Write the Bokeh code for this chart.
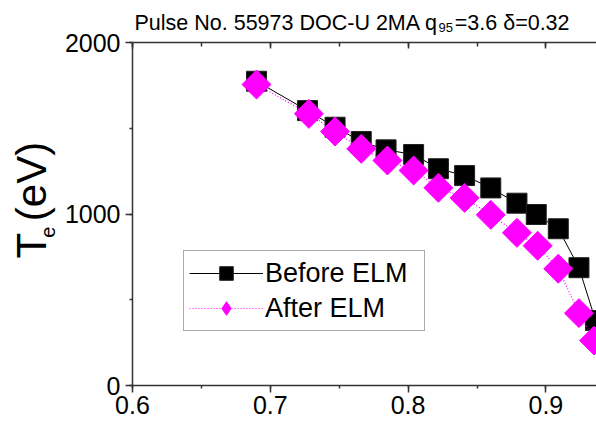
import math
from bokeh.plotting import figure
from bokeh.models import (Range1d, LinearAxis, SingleIntervalTicker, Label,
                          Legend, LegendItem, CustomJSTickFormatter)
from bokeh.embed import file_html
from bokeh.resources import INLINE

# ---- data ----
r_before = [0.690, 0.727, 0.747, 0.766, 0.784, 0.804, 0.822, 0.841, 0.860, 0.879, 0.893, 0.909, 0.924, 0.936]
te_before = [1774, 1603, 1506, 1423, 1374, 1347, 1264, 1224, 1152, 1063, 997, 914, 687, 379]
r_after = [0.690, 0.728, 0.747, 0.766, 0.785, 0.804, 0.822, 0.841, 0.860, 0.879, 0.894, 0.909, 0.924, 0.935]
te_after = [1755, 1584, 1481, 1380, 1312, 1254, 1153, 1094, 995, 890, 815, 681, 422, 262]
series_names = ["Before ELM", "After ELM"]
NB = "\u00a0"
title_text = "Pulse No. 55973 DOC-U 2MA q" + NB * 3 + "=3.6 \u03b4=0.32"
title_sub = "95"
ylabel_text = "T" + NB + "(eV)"
ylabel_sub = "e"

# ---- layout constants ----
W, H = 596, 424
FL, FR, FT, FB = 132, 596, 42, 385
XMIN, XMAX = 0.6, 0.6 + (FR - FL) / 1378.0
YMIN, YMAX = 0, 2000
FONT = "Liberation Sans"
AX = "#333333"


def dx(px):
    return XMIN + (px - FL) * (XMAX - XMIN) / (FR - FL)


def dy(py):
    return YMIN + (FB - py) * (YMAX - YMIN) / (FB - FT)


p = figure(width=W, height=H, output_backend="svg", toolbar_location=None,
           x_range=Range1d(XMIN, XMAX), y_range=Range1d(YMIN, YMAX),
           min_border_left=FL, min_border_right=W - FR,
           min_border_top=FT, min_border_bottom=H - FB,
           x_axis_location="below", y_axis_location="left")
p.outline_line_color = None
p.xgrid.visible = False
p.ygrid.visible = False
p.background_fill_color = "white"
p.border_fill_color = "white"

xa = p.xaxis[0]
xa.ticker = SingleIntervalTicker(interval=0.1, num_minor_ticks=2)
ya = p.yaxis[0]
ya.ticker = SingleIntervalTicker(interval=1000, num_minor_ticks=2)
for ax in (xa, ya):
    ax.axis_line_color = AX
    ax.axis_line_width = 1.5
    ax.major_tick_line_color = AX
    ax.minor_tick_line_color = AX
    ax.major_tick_line_width = 1.5
    ax.minor_tick_line_width = 1.5
    ax.major_tick_out = 7
    ax.major_tick_in = 0
    ax.minor_tick_out = 3
    ax.minor_tick_in = 0
    ax.major_label_text_font = FONT
    ax.major_label_text_font_size = "25px"
    ax.major_label_text_color = "black"
xa.major_label_standoff = 3
ya.major_label_standoff = 5

top = LinearAxis(ticker=SingleIntervalTicker(interval=0.1, num_minor_ticks=2),
                 formatter=CustomJSTickFormatter(code="return ''"))
top.axis_line_color = AX
top.axis_line_width = 1.5
top.major_tick_line_color = AX
top.minor_tick_line_color = AX
top.major_tick_line_width = 1.5
top.minor_tick_line_width = 1.5
top.major_tick_in = 6
top.major_tick_out = 0
top.minor_tick_in = 4
top.minor_tick_out = 0
top.major_label_standoff = 0
p.add_layout(top, "above")

# ---- series ----
l1 = p.line(r_before, te_before, line_color="black", line_width=1)
s1 = p.scatter(r_before, te_before, marker="square", size=20,
               fill_color="black", line_color="#222222", line_width=1)
l2 = p.line(r_after, te_after, line_color="#ff00ff", line_width=1.2, line_dash="1 2")
s2 = p.scatter(r_after, te_after, marker="square", size=20.5, angle=math.pi / 4,
               fill_color="#ff00ff", line_color="#ff00ff", line_width=1)
# legend-only swatch (diamond shape; hidden on the plot)
s2_leg = p.scatter(r_after, te_after, marker="diamond", size=20,
                   fill_color="#ff00ff", line_color="#ff00ff", visible=False)

legend = Legend(items=[LegendItem(label=series_names[0], renderers=[l1, s1]),
                       LegendItem(label=series_names[1], renderers=[l2, s2_leg])],
                location=(183 - FL, FB - 331),
                glyph_width=74, glyph_height=34, label_standoff=2,
                label_width=154, spacing=1, padding=5, margin=0,
                label_text_font=FONT, label_text_font_size="27px",
                label_text_color="black",
                inactive_fill_alpha=0.0,
                border_line_color="#555555", border_line_width=1.5,
                background_fill_color="white", background_fill_alpha=1.0)
p.add_layout(legend, "center")

# ---- title (subscript as its own label) ----
TS = 21.5
tx0 = 134
w_q = 14.116 * TS  # width of "Pulse No. 55973 DOC-U 2MA q"
p.add_layout(Label(x=dx(tx0), y=dy(22), text=title_text, text_font=FONT,
                   text_font_size=f"{TS}px", text_color="black",
                   text_baseline="alphabetic"), "above")
p.add_layout(Label(x=dx(tx0 + w_q + 0.5), y=dy(27), text=title_sub, text_font=FONT,
                   text_font_size="13px", text_color="black",
                   text_baseline="alphabetic"), "left")

# ---- y axis label, rotated (subscript as its own label) ----
YS = 42
y0 = 258
p.add_layout(Label(x=dx(31), y=dy(y0), text=ylabel_text, angle=math.pi / 2,
                   text_font=FONT, text_font_size=f"{YS}px", text_color="black",
                   text_baseline="alphabetic"), "left")
p.add_layout(Label(x=dx(47), y=dy(y0 - 0.611 * YS + 5), text=ylabel_sub, angle=math.pi / 2,
                   text_font=FONT, text_font_size="20px", text_color="black",
                   text_baseline="alphabetic"), "above")

open("out.html", "w").write(file_html(p, INLINE))
